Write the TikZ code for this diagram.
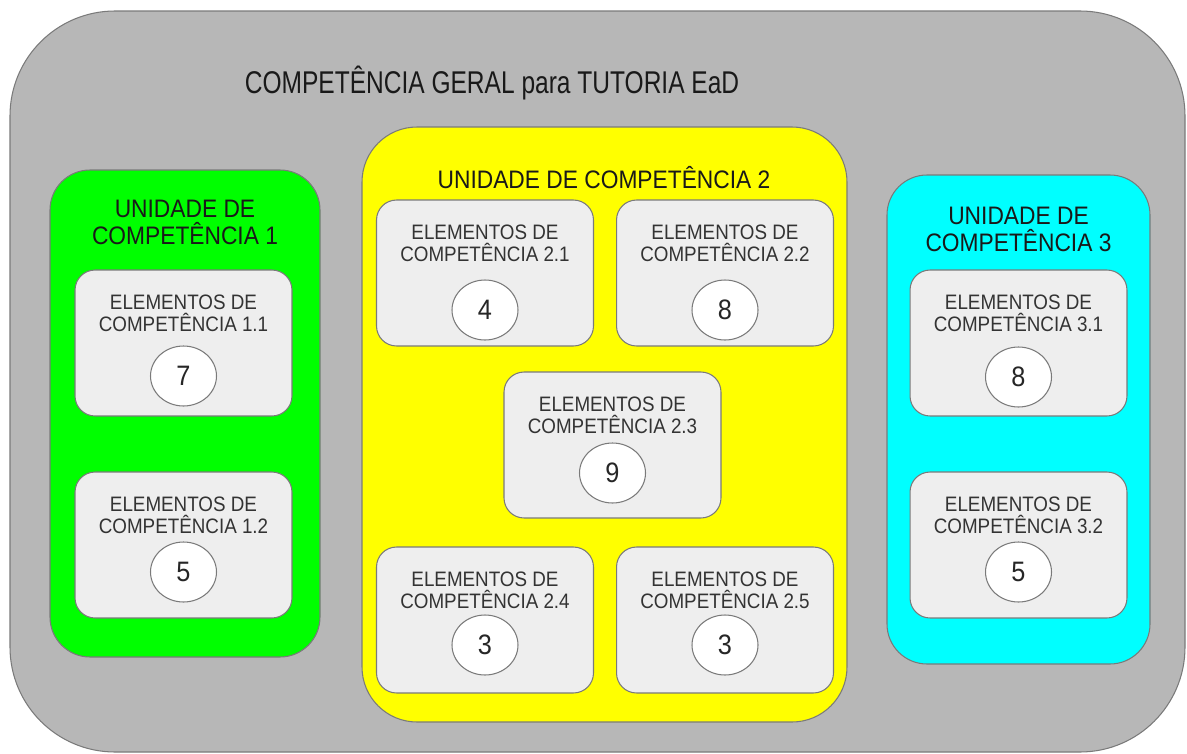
\documentclass[tikz,border=0pt]{standalone}
\usepackage{fontspec}
\setmainfont{Liberation Sans}[FakeStretch=0.9]
\newfontfamily\titlefont{Liberation Sans}[FakeStretch=0.78]
\usetikzlibrary{shapes.geometric}
\definecolor{outergray}{HTML}{B7B7B7}
\definecolor{edgegray}{HTML}{7A7A7A}
\definecolor{elemgray}{HTML}{EEEEEE}
\definecolor{ucgreen}{HTML}{00FF00}
\definecolor{ucyellow}{HTML}{FFFF00}
\definecolor{uccyan}{HTML}{00FFFF}

\begin{document}
\begin{tikzpicture}[x=0.02cm,y=-0.02cm,line width=0.6pt,
  unit/.style={draw=edgegray,rounded corners=0.8cm},
  elem/.style={draw=edgegray,fill=elemgray,rounded corners=0.4cm,
    minimum width=4.34cm,minimum height=2.92cm,inner sep=0pt},
  elemtext/.style={align=center,text=black!80,font=\fontsize{11.9}{12.8}\selectfont},
  unittext/.style={align=center,text=black!90,font=\fontsize{14.4}{15.3}\selectfont},
  num/.style={ellipse,draw=edgegray,fill=white,minimum width=1.32cm,
    minimum height=1.2cm,inner sep=0pt,text=black!85,font=\fontsize{16}{16}\selectfont}]
\useasboundingbox (0,0) rectangle (1187,754);
% ---------- general competence ----------
\draw[draw=edgegray,fill=outergray,rounded corners=2.1cm] (10,11) rectangle (1185,752);
\node[text=black!90,font=\titlefont\fontsize{17.9}{20}\selectfont] (geral) at (492,83)
  {COMPETÊNCIA GERAL para TUTORIA EaD};
% ---------- units ----------
\draw[unit,fill=ucgreen] (50,170) rectangle (320,657);
\node[unittext] (uc1) at (185,222.5) {UNIDADE DE\\COMPETÊNCIA 1};
\draw[unit,fill=ucyellow,rounded corners=1.1cm] (362,127) rectangle (847,722);
\node[unittext] (uc2) at (604,178) {UNIDADE DE COMPETÊNCIA 2};
\draw[unit,fill=uccyan] (887,175) rectangle (1150,664);
\node[unittext] (uc3) at (1018.5,229.5) {UNIDADE DE\\COMPETÊNCIA 3};
% ---------- elements ----------
\foreach \n/\lab/\v/\cx/\top/\cy in {11/1.1/7/183.5/270/376, 12/1.2/5/183.5/472/572,
    21/2.1/4/485/200/310, 22/2.2/8/725/200/310, 23/2.3/9/612.5/372/473,
    24/2.4/3/485/547/645, 25/2.5/3/725/547/645,
    31/3.1/8/1018.5/270/377, 32/3.2/5/1018.5/472/572}{
  \node[elem] (e\n) at (\cx,\top+73) {};
  \node[elemtext] (t\n) at (\cx,\top+43.5) {ELEMENTOS DE\\COMPETÊNCIA \lab};
  \node[num] (n\n) at (\cx,\cy) {\v};
}
\end{tikzpicture}
\end{document}
